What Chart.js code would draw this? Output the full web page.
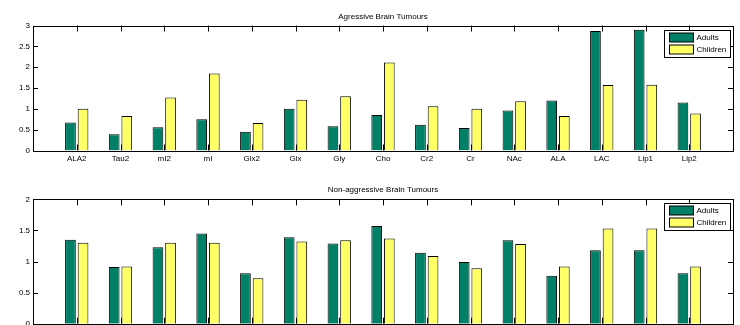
<!DOCTYPE html>
<html>
<head>
<meta charset="utf-8">
<script src="https://cdn.jsdelivr.net/npm/chart.js@4.4.0/dist/chart.umd.min.js"></script>
<style>
html, body { margin: 0; padding: 0; background: #fff; overflow: hidden; width: 740px; height: 325px; }
.wrap { position: absolute; left: 0; width: 740px; height: 170px; }
</style>
</head>
<body>
<div class="wrap" style="top:0"><canvas id="topChart" width="740" height="170"></canvas></div>
<div class="wrap" style="top:170px"><canvas id="bottomChart" width="740" height="170"></canvas></div>
<script>
const metabolites = ['ALA2', 'Tau2', 'mI2', 'mI', 'Glx2', 'Glx', 'Gly', 'Cho', 'Cr2', 'Cr', 'NAc', 'ALA', 'LAC', 'Lip1', 'Lip2'];
const seriesNames = ['Adults', 'Children'];

// aggressive tumours
const aggAdults   = [0.67, 0.39, 0.56, 0.75, 0.45, 1.00, 0.58, 0.85, 0.62, 0.54, 0.96, 1.20, 2.87, 2.90, 1.15];
const aggChildren = [1.00, 0.83, 1.27, 1.85, 0.66, 1.22, 1.30, 2.11, 1.06, 1.00, 1.18, 0.83, 1.57, 1.58, 0.89];

// non-aggressive tumours
const nonAdults   = [1.35, 0.91, 1.23, 1.45, 0.81, 1.39, 1.29, 1.57, 1.14, 0.99, 1.34, 0.77, 1.18, 1.18, 0.81];
const nonChildren = [1.30, 0.92, 1.30, 1.30, 0.73, 1.32, 1.34, 1.37, 1.09, 0.89, 1.28, 0.92, 1.53, 1.53, 0.92];

const colors = ['#008066', '#ffff66'];

const FONT_SIZE = 8;
Chart.defaults.font.family = '"Liberation Sans", Arial, Helvetica, sans-serif';
Chart.defaults.font.size = FONT_SIZE;
Chart.defaults.color = '#000';

// matlab style box, inward ticks and legend
const matlabAxes = {
    id: 'matlabAxes',
    beforeDatasetsDraw(chart) {
        const ctx = chart.ctx;
        const a = chart.chartArea;
        const xs = chart.scales.x, ys = chart.scales.y;
        ctx.save();
        ctx.strokeStyle = '#000';
        ctx.lineWidth = 1;
        ctx.beginPath();
        xs.ticks.forEach((t, i) => {
            if (!xs.getLabels()[i]) return;
            const px = Math.round(xs.getPixelForTick(i)) + 0.5;
            ctx.moveTo(px, a.top); ctx.lineTo(px, a.top + 6);
            ctx.moveTo(px, a.bottom); ctx.lineTo(px, a.bottom - 6);
        });
        ys.ticks.forEach((t, i) => {
            const py = Math.round(ys.getPixelForTick(i)) + 0.5;
            ctx.moveTo(a.left, py); ctx.lineTo(a.left + 5, py);
            ctx.moveTo(a.right, py); ctx.lineTo(a.right - 5, py);
        });
        ctx.stroke();
        ctx.restore();
    },
    afterDatasetsDraw(chart) {
        const ctx = chart.ctx;
        const a = chart.chartArea;
        ctx.save();
        ctx.strokeStyle = '#000';
        ctx.lineWidth = 1;
        const l = Math.round(a.left) + 0.5, t = Math.round(a.top) + 0.5;
        const r = Math.round(a.right) + 0.5, b = Math.round(a.bottom) + 0.5;
        ctx.strokeRect(l, t, r - l, b - t);

        // legend
        const lw = 66, lh = 27;
        const lx = r - 3 - lw, ly = t + 4;
        ctx.fillStyle = '#fff';
        ctx.fillRect(lx, ly, lw, lh);
        ctx.strokeRect(lx, ly, lw, lh);
        ctx.font = FONT_SIZE + 'px ' + Chart.defaults.font.family;
        ctx.textBaseline = 'middle';
        chart.data.datasets.forEach((ds, i) => {
            const sy = ly + 2.5 + i * 12;
            ctx.fillStyle = ds.backgroundColor;
            ctx.fillRect(lx + 5, sy, 24, 9);
            ctx.strokeRect(lx + 5, sy, 24, 9);
            ctx.fillStyle = '#000';
            ctx.fillText(ds.label, lx + 32, sy + 5);
        });
        ctx.restore();
    }
};

function buildChart(id, title, adults, children, yMax, titleMid, areaTop, areaBottom) {
    const canvas = document.getElementById(id);
    const labels = [''].concat(metabolites, ['']);
    const pad = v => [null].concat(v, [null]);
    const lineH = FONT_SIZE * 1.2;
    const titleTop = titleMid - lineH / 2;
    return new Chart(canvas.getContext('2d'), {
        type: 'bar',
        data: {
            labels: labels,
            datasets: [adults, children].map((vals, i) => ({
                label: seriesNames[i],
                data: pad(vals),
                backgroundColor: colors[i],
                borderColor: '#000',
                borderWidth: 1,
                categoryPercentage: 0.576,
                barPercentage: 0.85
            }))
        },
        options: {
            responsive: false,
            animation: false,
            layout: { padding: { top: 0, right: 7, bottom: 0, left: 0 } },
            plugins: {
                legend: { display: false },
                tooltip: { enabled: false },
                title: {
                    display: true,
                    text: title,
                    fullSize: false,
                    color: '#000',
                    font: { size: FONT_SIZE, weight: 'normal' },
                    padding: { top: titleTop, bottom: areaTop - titleTop - lineH }
                }
            },
            scales: {
                x: {
                    offset: false,
                    grid: { display: false, drawTicks: false },
                    border: { display: false },
                    ticks: { autoSkip: false, maxRotation: 0, padding: 3 },
                    afterFit(s) { s.height = canvas.height - areaBottom; }
                },
                y: {
                    min: 0,
                    max: yMax,
                    grid: { display: false, drawTicks: false },
                    border: { display: false },
                    ticks: {
                        stepSize: 0.5,
                        padding: 3,
                        callback: v => String(+v.toFixed(1))
                    },
                    afterFit(s) { s.width = 33; }
                }
            }
        },
        plugins: [matlabAxes]
    });
}

buildChart('topChart', 'Agressive Brain Tumours', aggAdults, aggChildren, 3, 17, 25.5, 150.5);
buildChart('bottomChart', 'Non-aggressive Brain Tumours', nonAdults, nonChildren, 2, 20, 29.3, 153.7);
</script>
</body>
</html>
